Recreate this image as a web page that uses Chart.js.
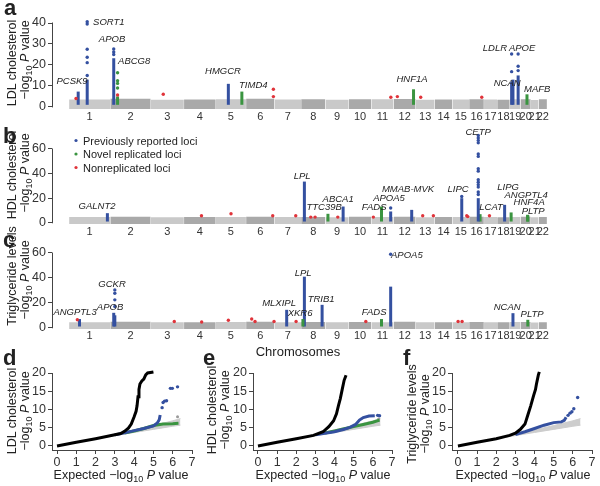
<!DOCTYPE html>
<html><head><meta charset="utf-8">
<script src="https://cdn.jsdelivr.net/npm/chart.js@4.4.1/dist/chart.umd.min.js"></script>
<style>
html,body{margin:0;padding:0;background:#fff;}
#wrap{position:relative;width:600px;height:486px;overflow:hidden;}
canvas{position:absolute;}
svg{position:absolute;left:0;top:0;font-family:"Liberation Sans",Arial,Helvetica,sans-serif;fill:#222;}
</style></head><body>
<div id="wrap">
<canvas id="cA" width="600" height="125" style="left:0;top:0"></canvas>
<canvas id="cB" width="600" height="122" style="left:0;top:120px"></canvas>
<canvas id="cC" width="600" height="108" style="left:0;top:238px"></canvas>
<canvas id="cD" width="200" height="136" style="left:0;top:350px"></canvas>
<canvas id="cE" width="200" height="136" style="left:200px;top:350px"></canvas>
<canvas id="cF" width="200" height="136" style="left:400px;top:350px"></canvas>
<svg width="600" height="486" viewBox="0 0 600 486">
  <g font-weight="bold" font-size="22">
    <text x="4" y="15">a</text>
    <text x="3" y="143">b</text>
    <text x="3" y="247">c</text>
    <text x="3" y="365">d</text>
    <text x="203" y="365">e</text>
    <text x="403" y="365">f</text>
  </g>
  <g font-size="12.5" text-anchor="middle">
    <text transform="translate(15.5,63) rotate(-90)">LDL cholesterol</text>
    <text transform="translate(28.5,60) rotate(-90)">−log<tspan font-size="9" dy="3">10</tspan><tspan dy="-3"> </tspan><tspan font-style="italic">P</tspan> value</text>
    <text transform="translate(15.5,175) rotate(-90)">HDL cholesterol</text>
    <text transform="translate(28.5,173) rotate(-90)">−log<tspan font-size="9" dy="3">10</tspan><tspan dy="-3"> </tspan><tspan font-style="italic">P</tspan> value</text>
    <text transform="translate(15.5,276) rotate(-90)">Triglyceride levels</text>
    <text transform="translate(28.5,280) rotate(-90)">−log<tspan font-size="9" dy="3">10</tspan><tspan dy="-3"> </tspan><tspan font-style="italic">P</tspan> value</text>
    <text transform="translate(15.5,411) rotate(-90)">LDL cholesterol</text>
    <text transform="translate(28.5,411) rotate(-90)">−log<tspan font-size="9" dy="3">10</tspan><tspan dy="-3"> </tspan><tspan font-style="italic">P</tspan> value</text>
    <text transform="translate(215.5,410) rotate(-90)">HDL cholesterol</text>
    <text transform="translate(228.5,410) rotate(-90)">−log<tspan font-size="9" dy="3">10</tspan><tspan dy="-3"> </tspan><tspan font-style="italic">P</tspan> value</text>
    <text transform="translate(415.5,414) rotate(-90)">Triglyceride levels</text>
    <text transform="translate(428.5,414) rotate(-90)">−log<tspan font-size="9" dy="3">10</tspan><tspan dy="-3"> </tspan><tspan font-style="italic">P</tspan> value</text>
    <text x="121" y="479">Expected −log<tspan font-size="9" dy="3">10</tspan><tspan dy="-3"> </tspan><tspan font-style="italic">P</tspan> value</text>
    <text x="323" y="479">Expected −log<tspan font-size="9" dy="3">10</tspan><tspan dy="-3"> </tspan><tspan font-style="italic">P</tspan> value</text>
    <text x="523" y="479">Expected −log<tspan font-size="9" dy="3">10</tspan><tspan dy="-3"> </tspan><tspan font-style="italic">P</tspan> value</text>
    <text x="298" y="356" font-size="13">Chromosomes</text>
  </g>
  <g font-size="11">
    <circle cx="76" cy="140.5" r="1.6" fill="#3450a0"/>
    <text x="83" y="144.5">Previously reported loci</text>
    <circle cx="76" cy="154" r="1.6" fill="#3a9440"/>
    <text x="83" y="158">Novel replicated loci</text>
    <circle cx="76" cy="167.5" r="1.6" fill="#e0333a"/>
    <text x="83" y="171.5">Nonreplicated loci</text>
  </g>
</svg>
</div>
<script>
// ---------- genome layout data ----------
const chromLengths = [247,243,199,191,181,171,159,146,140,135,134,132,114,106,100,89,79,76,64,62,47,50];
const chromLabels = ['1','2','3','4','5','6','7','8','9','10','11','12','13','14','15','16','17','18','19','20','21','22'];

// ---------- panel a: LDL cholesterol ----------
const ldlTicks = [0,10,20,30,40];
const ldlBackground = [3.5,3.9,3.4,3.5,3.6,3.9,3.5,3.6,3.4,3.7,3.6,3.8,3.4,3.5,3.5,3.7,3.5,3.4,3.6,3.7,3.3,3.6];
// [chromosome, Mb, peak -log10 P, group]
const ldlLoci = [
  [1,55,7.3,'known'],[1,109,13,'known'],[2,21,23.2,'known'],[2,44,5,'novel'],
  [5,75,11,'known'],[5,156,7.3,'novel'],[12,119,8.4,'novel'],
  [19,11,12,'known'],[19,19,13,'known'],[19,50,15,'known'],[20,39,6,'novel']
];
const ldlPoints = [
  [1,109,40.6,'known'],[1,109,39.5,'known'],[1,109,27.5,'known'],[1,109,23.7,'known'],[1,109,21.1,'known'],[1,109,15,'known'],
  [2,21,27.6,'known'],[2,21,26.2,'known'],[2,21,25,'known'],
  [2,44,16.3,'novel'],[2,44,12.5,'novel'],[2,44,11.2,'novel'],[2,44,9,'novel'],
  [19,11,25.2,'known'],[19,11,16.8,'known'],[19,50,25.2,'known'],[19,50,19.4,'known'],[19,50,17.3,'known'],
  [1,42,4,'nonrep'],[2,44,5.7,'nonrep'],[3,75,6,'nonrep'],[6,164,8.4,'nonrep'],[6,164,4.9,'nonrep'],
  [11,117,4.6,'nonrep'],[12,22,4.9,'nonrep'],[13,30,4.6,'nonrep'],[16,76,4.6,'nonrep']
];
// [gene, chromosome, Mb, -log10 P, anchor]
const ldlGenes = [
  ['PCSK9',1,18,12.4,'center'],['SORT1',1,144,40.5,'left'],['APOB',2,11,32.4,'center'],['ABCG8',2,47,21.9,'left'],
  ['HMGCR',5,43,17.1,'center'],['TIMD4',5,139,10.5,'left'],['HNF1A',12,110,13.3,'center'],
  ['LDLR',18,60,28.1,'right'],['APOE',20,10,28.1,'center'],['NCAN',18,60,11.4,'center'],['MAFB',21,38,8.6,'center']
];

// ---------- panel b: HDL cholesterol ----------
const hdlTicks = [0,20,40,60];
const hdlBackground = [4.6,4.9,4.5,4.6,4.7,4.9,4.6,4.7,4.5,4.8,4.6,4.9,4.5,4.6,4.6,4.8,4.6,4.5,4.7,4.8,4.4,4.6];
const hdlLoci = [
  [1,230,7.8,'known'],[8,19.8,33.5,'known'],[9,15,7.3,'novel'],[9,106,13.2,'known'],
  [11,61,13.2,'novel'],[11,116,9.2,'known'],[12,108,10.5,'known'],[15,56,20,'known'],
  [16,55,20,'known'],[16,66,7,'novel'],[18,45,14.6,'known'],[19,8,8.4,'novel'],
  [20,42.5,6.5,'novel'],[20,44,6,'novel']
];
const hdlPoints = [
  [11,116,12,'known'],[15,56,21.4,'known'],
  [16,55,71,'known'],[16,55,69,'known'],[16,55,67,'known'],[16,55,65,'known'],[16,55,56,'known'],[16,55,54,'known'],
  [16,55,44,'known'],[16,55,42,'known'],[16,55,35,'known'],[16,55,33,'known'],[16,55,31,'known'],[16,55,29,'known'],
  [16,55,25,'known'],[16,55,23,'known'],
  [4,105,5.7,'nonrep'],[5,91,7.3,'nonrep'],[6,160,5.7,'nonrep'],[7,127,5.7,'nonrep'],[8,58,4.6,'nonrep'],
  [8,84,4.6,'nonrep'],[9,74,4.6,'nonrep'],[11,12,4.6,'nonrep'],[13,42,5.7,'nonrep'],[13,106,5.7,'nonrep'],
  [15,86,5.7,'nonrep'],[15,92,5,'nonrep'],[17,33,5.7,'nonrep']
];
const hdlGenes = [
  ['GALNT2',1,168,13,'center'],['LPL',8,6,38,'center'],['TTC39B',8,138,12.2,'center'],['ABCA1',9,76,18.7,'center'],
  ['FADS',11,17,12.2,'center'],['APOA5',11,106,19.5,'center'],['MMAB-MVK',12,86,26.8,'center'],['LIPC',15,34,26.8,'center'],
  ['CETP',16,54,73.8,'center'],['LCAT',17,43,12.2,'center'],['LIPG',18,66,28.4,'center'],['ANGPTL4',20,34,21.9,'center'],
  ['HNF4A',20,52,16.2,'center'],['PLTP',21,14,8.9,'center']
];

// ---------- panel c: triglycerides ----------
const tgTicks = [0,20,40,60];
const tgBackground = [4.5,4.8,4.4,4.5,4.6,4.8,4.5,4.6,4.4,4.7,4.5,4.8,4.4,4.5,4.5,4.7,4.5,4.4,4.6,4.7,4.3,4.5];
const tgLoci = [
  [1,63,7,'known'],[2,21,12,'known'],[2,27.6,10,'known'],[7,72.7,14.4,'known'],[8,11,7,'novel'],
  [8,19.8,41,'known'],[8,126,18.4,'known'],[11,61,7,'novel'],[11,116,33,'known'],[19,19,11.7,'known'],[20,44,6.4,'novel']
];
const tgPoints = [
  [2,27.6,30.4,'known'],[2,27.6,27.7,'known'],[2,27.6,22.4,'known'],[2,27.6,17,'known'],[11,116,59,'known'],
  [1,50,6.4,'nonrep'],[3,141,5,'nonrep'],[4,106,4.6,'nonrep'],[5,75,6,'nonrep'],[6,34,7,'nonrep'],[6,54,5,'nonrep'],
  [6,168,5,'nonrep'],[7,129,5,'nonrep'],[10,102,5,'nonrep'],[15,34,5,'nonrep'],[15,58,5,'nonrep']
];
const tgGenes = [
  ['ANGPTL3',1,36,12,'center'],['GCKR',2,11,35.2,'center'],['APOB',1,246,16,'center'],['MLXIPL',7,27,19.2,'center'],
  ['XKR6',7,153,11.2,'center'],['LPL',8,12,44,'center'],['TRIB1',8,120,22.4,'center'],['FADS',11,17,12,'center'],
  ['APOA5',11,118,58.4,'left'],['NCAN',18,60,16,'center'],['PLTP',21,8,10.4,'center']
];

// ---------- QQ plots: [expected, observed] ----------
const qqTicksX = [0,1,2,3,4,5,6,7];
const qqTicksY = [0,5,10,15,20];
const qqNullUpper = [[2.5,2.6],[3,3.25],[4,4.4],[5,5.6],[6,6.9],[6.4,7.5]];
const qqNullLower = [[2.5,2.4],[3,2.85],[4,3.7],[5,4.55],[6,5.4],[6.4,5.7]];

const ldlQQAll = [[0,0],[1,1],[2,2],[3,3.1],[3.3,3.4],[3.5,4],[3.7,4.9],[3.85,6],[4.0,8],[4.1,9.5],[4.15,11],[4.2,13.5],[4.25,15.5],[4.3,17],[4.4,17.8],[4.5,18.3],[4.6,19.5],[4.7,20],[5.0,20.3]];
const ldlQQNoKnown = [[3,3.05],[3.5,3.6],[4,4.2],[4.5,4.8],[5,5.5],[5.2,6.3],[5.3,7.2],[5.35,8.5]];
const ldlQQNoKnownTail = [[5.45,10.5],[5.5,11.9],[5.58,12.3],[5.68,12.4],[5.88,15.8],[5.98,15.8],[6.25,16.2]];
const ldlQQNoLoci = [[3.5,3.55],[4,4.1],[4.5,4.8],[5,5.6],[5.5,6.0],[6,6.1],[6.3,6.2]];
const ldlQQNoLociTail = [[6.25,8]];

const hdlQQAll = [[0,0],[1,1],[2,2],[2.9,2.9],[3.4,3.9],[3.7,5.3],[3.95,6.9],[4.1,8.8],[4.2,11],[4.3,13],[4.4,15.5],[4.5,18],[4.6,19.4]];
const hdlQQNoKnown = [[3,3.05],[3.5,3.5],[4,3.9],[4.5,4.6],[4.8,5.1],[5.1,5.9],[5.3,7.1],[5.5,7.8],[5.8,8.2],[6.1,8.3]];
const hdlQQNoKnownTail = [[6.25,8.4],[6.35,8.3]];
const hdlQQNoLoci = [[3.5,3.55],[4,4.1],[4.5,4.7],[5,5.3],[5.5,5.9],[6,6.5],[6.35,7.1]];
const hdlQQNoLociTail = [[6.3,7.4]];

const tgQQAll = [[0,0],[1,1],[2,2],[2.7,2.9],[3.0,3.5],[3.25,4.5],[3.5,6],[3.65,8.5],[3.8,11],[3.95,13.8],[4.05,15.5],[4.1,17],[4.2,19.5],[4.25,20.3]];
const tgQQNoKnown = [[3,3.1],[3.5,3.9],[4,4.8],[4.5,5.7],[5,6.4],[5.4,6.6],[5.55,7.0],[5.65,7.9]];
const tgQQNoKnownTail = [[5.75,8.4],[5.85,9.0],[5.95,9.4],[6.05,10.2],[6.25,13.3]];

// ---------- styling ----------
const FONT = '"Liberation Sans", Arial, Helvetica, sans-serif';
const COLORS = {known:'#3450a0', novel:'#3a9440', nonrep:'#e0333a'};
const GRAY_ODD = '#c9c9c9', GRAY_EVEN = '#a9a9a9';

const chromStart = [];
chromLengths.reduce((acc, len, i) => { chromStart[i] = acc; return acc + len; }, 0);
const genomeEnd = chromStart[21] + chromLengths[21];
const chromCenters = chromLengths.map((len, i) => chromStart[i] + len / 2);
const gpos = (chr, mb) => chromStart[chr - 1] + mb;

const genePlugin = {
  id: 'genes',
  afterDatasetsDraw(chart) {
    const genes = chart.options.plugins.genes && chart.options.plugins.genes.items;
    if (!genes) return;
    const {ctx, scales} = chart;
    ctx.save();
    ctx.font = 'italic 9.5px ' + FONT;
    ctx.fillStyle = '#222';
    ctx.textBaseline = 'middle';
    genes.forEach(([name, chr, mb, v, align]) => {
      ctx.textAlign = align;
      ctx.fillText(name, scales.x.getPixelForValue(gpos(chr, mb)), scales.y.getPixelForValue(v));
    });
    ctx.restore();
  }
};

// y axis line drawn only between the first and last tick (R style)
const axisLinePlugin = {
  id: 'axisLine',
  afterDraw(chart) {
    const o = chart.options.plugins.axisLine;
    if (!o || !o.ticks) return;
    const {ctx, scales, chartArea} = chart;
    const x = Math.round(chartArea.left - 0.5) + 0.5;
    ctx.save();
    ctx.strokeStyle = '#444';
    ctx.lineWidth = 1;
    ctx.beginPath();
    ctx.moveTo(x, scales.y.getPixelForValue(o.ticks[0]) + 0.5);
    ctx.lineTo(x, scales.y.getPixelForValue(o.ticks[o.ticks.length - 1]) - 0.5);
    ctx.stroke();
    ctx.restore();
  }
};

function manhattan(id, cfg) {
  const canvas = document.getElementById(id);
  const topTick = cfg.ticks[cfg.ticks.length - 1];
  const ppu = (cfg.bottomPx - cfg.tickTopPx) / (topTick - cfg.yMin);
  const padTop = cfg.tickTopPx - (cfg.yMax - topTick) * ppu;
  const datasets = [];
  ['known','novel','nonrep'].forEach(g => {
    const pts = cfg.points.filter(p => p[3] === g).map(p => ({x: gpos(p[0], p[1]), y: p[2]}));
    datasets.push({type:'scatter', data: pts, pointRadius:1.7, pointBorderWidth:0, backgroundColor: COLORS[g], borderColor: COLORS[g], clip:false, order:0});
  });
  cfg.loci.forEach(([chr, mb, top, g]) => {
    const x = gpos(chr, mb);
    datasets.push({type:'line', data:[{x, y:1}, {x, y:top}], borderColor: COLORS[g], borderWidth:3, borderCapStyle:'butt', pointRadius:0, clip:false, order:1});
  });
  chromLengths.forEach((len, i) => {
    const c = i % 2 === 0 ? GRAY_ODD : GRAY_EVEN;
    datasets.push({type:'line', data:[{x: chromStart[i] + 0.5, y: cfg.background[i]}, {x: chromStart[i] + len - 0.5, y: cfg.background[i]}],
      fill:{value: cfg.yMin}, backgroundColor: c, borderColor:'rgba(0,0,0,0)', borderWidth:1, pointRadius:0, order:5});
  });
  return new Chart(canvas, {
    type:'scatter',
    data:{datasets},
    plugins:[genePlugin, axisLinePlugin],
    options:{
      responsive:false, animation:false, events:[],
      layout:{padding:{top: padTop, right:53, left:0, bottom:0}},
      plugins:{legend:{display:false}, tooltip:{enabled:false}, genes:{items: cfg.genes}, axisLine:{ticks: cfg.ticks}},
      scales:{
        x:{type:'linear', min:-102, max: genomeEnd, offset:false,
          grid:{display:false, drawTicks:false, offset:false}, border:{display:false},
          afterBuildTicks: s => { s.ticks = chromCenters.map(v => ({value: v})); },
          afterFit: s => { s.height = canvas.height - cfg.bottomPx; },
          ticks:{autoSkip:false, maxRotation:0, minRotation:0, padding: cfg.xPad, color:'#333',
            font:{size:11, family: FONT}, callback:(v, i) => chromLabels[i]}},
        y:{type:'linear', min: cfg.yMin, max: cfg.yMax,
          afterBuildTicks: s => { s.ticks = cfg.ticks.map(v => ({value: v})); },
          afterFit: s => { s.width = 52; },
          grid:{drawOnChartArea:false, drawTicks:true, tickLength:4, color:'#444'},
          border:{display:false},
          ticks:{padding:2, color:'#333', font:{size:12.5, family: FONT}}}
      }
    }
  });
}

manhattan('cA', {background: ldlBackground, loci: ldlLoci, points: ldlPoints, genes: ldlGenes, ticks: ldlTicks,
  yMin:-1, yMax:43, tickTopPx:23, bottomPx:109, xPad:1});
manhattan('cB', {background: hdlBackground, loci: hdlLoci, points: hdlPoints, genes: hdlGenes, ticks: hdlTicks,
  yMin:-1, yMax:75, tickTopPx:29, bottomPx:104, xPad:1});
manhattan('cC', {background: tgBackground, loci: tgLoci, points: tgPoints, genes: tgGenes, ticks: tgTicks,
  yMin:-1, yMax:62, tickTopPx:15, bottomPx:91, xPad:0});

const toXY = arr => arr.map(([x, y]) => ({x, y}));

function qq(id, cfg) {
  const datasets = [
    {type:'line', data: toXY(cfg.all), borderColor:'#000', borderWidth:3, pointRadius:0, clip:false, order:0},
    {type:'line', data: toXY(cfg.noKnown), borderColor: COLORS.known, borderWidth:3, pointRadius:0, clip:false, order:1},
    {type:'scatter', data: toXY(cfg.noKnownTail), pointRadius:1.7, pointBorderWidth:0, backgroundColor: COLORS.known, clip:false, order:1}
  ];
  if (cfg.noLoci) {
    datasets.push({type:'line', data: toXY(cfg.noLoci), borderColor: COLORS.novel, borderWidth:3, pointRadius:0, clip:false, order:2});
    datasets.push({type:'scatter', data: toXY(cfg.noLociTail), pointRadius:1.5, pointBorderWidth:0, backgroundColor:'#9a9a9a', clip:false, order:2});
  }
  datasets.push({type:'line', data: toXY(qqNullUpper), fill:'+1', backgroundColor:'#cdcdcd', borderColor:'#cdcdcd', borderWidth:1, pointRadius:0, order:3});
  datasets.push({type:'line', data: toXY(qqNullLower), borderColor:'#cdcdcd', borderWidth:1, pointRadius:0, order:3});
  return new Chart(document.getElementById(id), {
    type:'scatter',
    data:{datasets},
    options:{
      responsive:false, animation:false, events:[],
      layout:{padding:{top:23, right:8, left:0, bottom:0}},
      plugins:{legend:{display:false}, tooltip:{enabled:false}},
      scales:{
        x:{type:'linear', min: cfg.xMin, max:7,
          afterBuildTicks: s => { s.ticks = qqTicksX.map(v => ({value: v})); },
          afterFit: s => { s.height = 36; },
          grid:{drawOnChartArea:false, drawTicks:true, tickLength:4, color:'#444'},
          border:{display:true, color:'#444', width:1},
          ticks:{padding:1, color:'#333', font:{size:12.5, family: FONT}, maxRotation:0, autoSkip:false}},
        y:{type:'linear', min:-1.1, max:20,
          afterBuildTicks: s => { s.ticks = qqTicksY.map(v => ({value: v})); },
          afterFit: s => { s.width = cfg.yW; },
          grid:{drawOnChartArea:false, drawTicks:true, tickLength:4, color:'#444'},
          border:{display:true, color:'#444', width:1},
          ticks:{padding:2, color:'#333', font:{size:12.5, family: FONT}}}
      }
    }
  });
}

qq('cD', {all: ldlQQAll, noKnown: ldlQQNoKnown, noKnownTail: ldlQQNoKnownTail, noLoci: ldlQQNoLoci, noLociTail: ldlQQNoLociTail, xMin:-0.26, yW:52});
qq('cE', {all: hdlQQAll, noKnown: hdlQQNoKnown, noKnownTail: hdlQQNoKnownTail, noLoci: hdlQQNoLoci, noLociTail: hdlQQNoLociTail, xMin:-0.26, yW:53});
qq('cF', {all: tgQQAll, noKnown: tgQQNoKnown, noKnownTail: tgQQNoKnownTail, xMin:-0.31, yW:52});
</script>
</body></html>
